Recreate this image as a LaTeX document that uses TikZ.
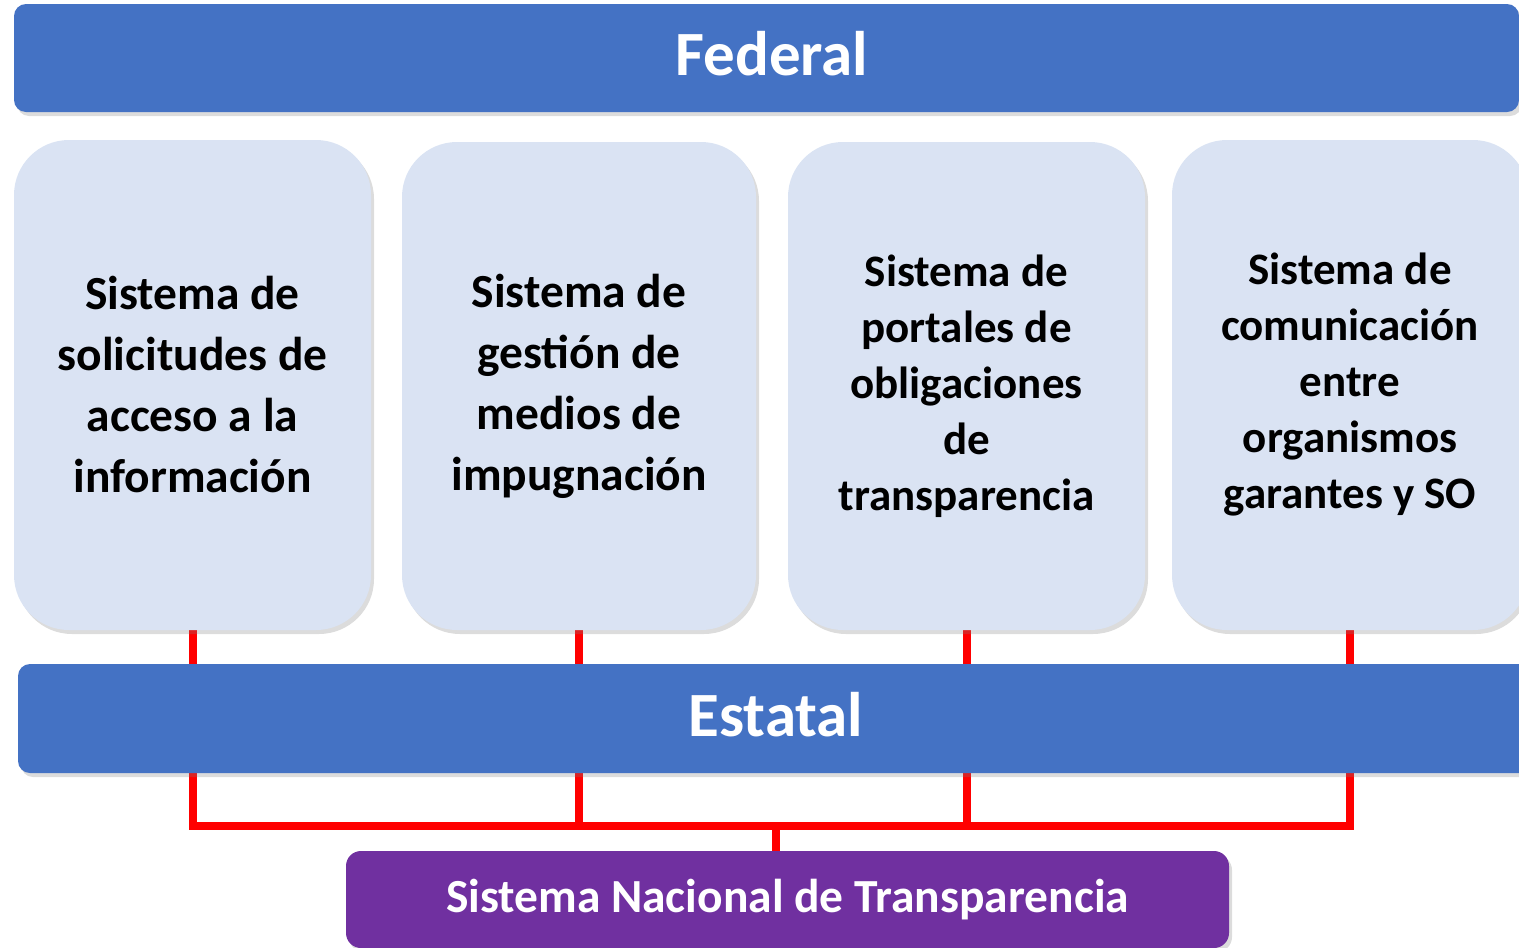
\documentclass[tikz,border=0pt]{standalone}
\usepackage{fontspec}
\setmainfont{Carlito}
\usetikzlibrary{shadows}
\definecolor{barblue}{HTML}{4472C4}
\definecolor{boxfill}{HTML}{DAE3F3}
\definecolor{snpurple}{HTML}{7030A0}
\definecolor{linkred}{HTML}{FF0000}
\pgfdeclarelayer{background}
\pgfsetlayers{background,main}
\tikzset{
  shd/.style={drop shadow={opacity=0.28, shadow xshift=3pt, shadow yshift=-4pt}},
  bar/.style={shd, fill=barblue, draw=none, rounded corners=12pt, inner sep=0pt,
    text=white, text depth=9pt, font=\bfseries\fontsize{63}{74}\selectfont},
  sysbox/.style={shd, fill=boxfill, draw=none, rounded corners=55pt, inner sep=0pt,
    align=center, text=black},
  bigtxt/.style={font=\bfseries\fontsize{47.5}{61}\selectfont},
  smalltxt/.style={font=\bfseries\fontsize{45}{56}\selectfont},
  snbox/.style={shd, fill=snpurple, draw=none, rounded corners=15pt, inner sep=0pt,
    text=white, font=\bfseries\fontsize{47.5}{57}\selectfont},
  link/.style={draw=linkred, line width=8pt}
}
\begin{document}
\begin{tikzpicture}[x=1pt,y=-1pt]
\useasboundingbox (0,0) rectangle (1519,948);
\clip (0,0) rectangle (1519,948);
% Federal bar
\node[bar, minimum width=1505pt, minimum height=108pt] (federal) at (766.5,58) {\hspace*{11pt}Federal};
% system boxes
\node[sysbox, bigtxt, minimum width=357pt, minimum height=490pt] (b1) at (192.5,385)
  {Sistema de\\solicitudes de\\acceso a la\\información};
\node[sysbox, bigtxt, minimum width=354pt, minimum height=488pt] (b2) at (579,386)
  {Sistema de\\gestión de\\medios de\\impugnación};
\node[sysbox, smalltxt, minimum width=357pt, minimum height=488pt] (b3) at (966.5,386)
  {Sistema de\\portales de\\obligaciones\\de\\transparencia};
\node[sysbox, smalltxt, minimum width=356pt, minimum height=490pt] (b4) at (1350,385)
  {Sistema de\\comunicación\\entre\\organismos\\garantes y SO};
% Estatal bar
\node[bar, minimum width=1516pt, minimum height=109pt] (estatal) at (776,718.5) {Estatal};
% Sistema Nacional
\node[snbox, minimum width=883pt, minimum height=97pt] (snt) at (787.5,899.5)
  {Sistema Nacional de Transparencia};
\coordinate (j) at (776,826);
% connectors
\begin{pgfonlayer}{background}
\draw[link] (b1.south) -- (b1.south |- estatal.north);
\draw[link] (b2.south) -- (b2.south |- estatal.north);
\draw[link] (b3.south) -- (b3.south |- estatal.north);
\draw[link] (b4.south) -- (b4.south |- estatal.north);
\draw[link] (b1.south |- estatal.south) |- (b4.south |- j) -- (b4.south |- estatal.south);
\draw[link] (b2.south |- estatal.south) -- (b2.south |- j);
\draw[link] (b3.south |- estatal.south) -- (b3.south |- j);
\draw[link] (j) -- (j |- snt.north);
\end{pgfonlayer}
\end{tikzpicture}
\end{document}
